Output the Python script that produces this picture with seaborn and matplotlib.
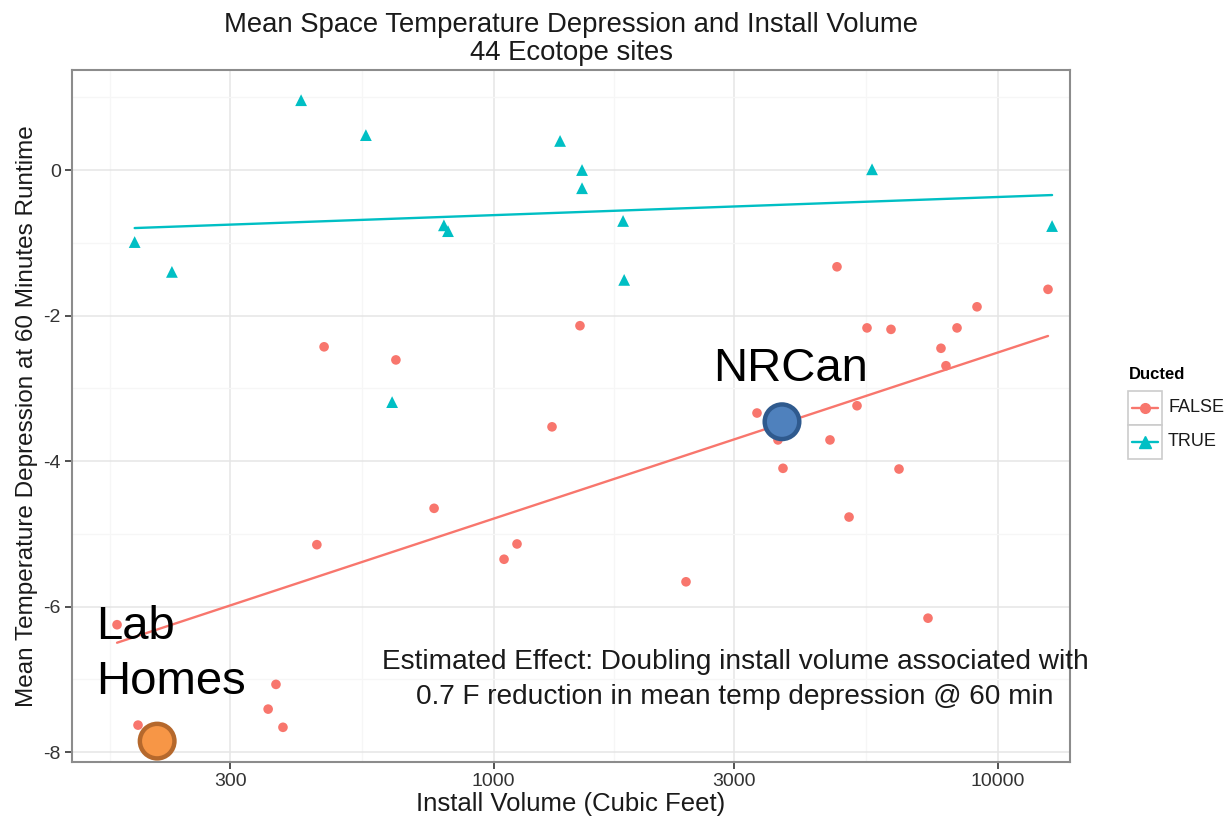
import numpy as np
import pandas as pd
import matplotlib
matplotlib.use("Agg")
import matplotlib.pyplot as plt
import seaborn as sns
from matplotlib.lines import Line2D
from matplotlib.patches import Rectangle
from matplotlib.ticker import FixedLocator, NullFormatter, FixedFormatter

# ---------------- data ----------------
false_volume = [179, 197, 370, 357, 382, 446, 461, 640, 762, 1049,
                1113, 1306, 1484, 2409, 3332, 3667, 3752, 4651, 5074, 5262,
                4802, 5508, 6146, 6375, 7278, 7723, 7901, 8310, 9105, 12594]
false_depression = [-6.25, -7.63, -7.07, -7.41, -7.66, -5.15, -2.43, -2.61, -4.65, -5.35,
                    -5.14, -3.53, -2.14, -5.66, -3.34, -3.71, -4.10, -3.71, -4.77, -3.24,
                    -1.33, -2.17, -2.19, -4.11, -6.16, -2.45, -2.69, -2.17, -1.88, -1.64]
true_volume = [194, 230, 415, 558, 797, 812, 629, 1355, 1498, 1498,
               1807, 1816, 5636, 12830]
true_depression = [-0.99, -1.40, 0.96, 0.48, -0.76, -0.84, -3.19, 0.40, 0.00, -0.25,
                   -0.70, -1.51, 0.01, -0.77]

x_breaks = [300, 1000, 3000, 10000]
x_break_labels = ["300", "1000", "3000", "10000"]
y_breaks = [-8, -6, -4, -2, 0]
y_break_labels = ["-8", "-6", "-4", "-2", "0"]

site_names = ["NRCan", "Lab\nHomes"]
site_volume = [3735, 215]
site_depression = [-3.46, -7.85]

groups = ["FALSE", "TRUE"]
group_colors = {"FALSE": "#F8766D", "TRUE": "#00BFC4"}

# ---------------- build table ----------------
df = pd.DataFrame({
    "volume": false_volume + true_volume,
    "depression": false_depression + true_depression,
    "Ducted": ["FALSE"] * len(false_volume) + ["TRUE"] * len(true_volume),
})

sns.set_theme(style="white")
plt.rcParams["font.family"] = ["Liberation Sans", "DejaVu Sans"]

W, H = 1230, 819
fig = plt.figure(figsize=(W / 100, H / 100), dpi=100)
L, R, T, B = 72, 1070, 70, 762
ax = fig.add_axes([L / W, 1 - B / H, (R - L) / W, (B - T) / H])
ax.set_xscale("log")

# points
sns.scatterplot(data=df[df.Ducted == "FALSE"], x="volume", y="depression",
                color=group_colors["FALSE"], marker="o", s=48, edgecolor="none",
                ax=ax, zorder=3, legend=False)
sns.scatterplot(data=df[df.Ducted == "TRUE"], x="volume", y="depression",
                color=group_colors["TRUE"], marker="^", s=72, edgecolor="none",
                ax=ax, zorder=3, legend=False)

# linear fits on log10 volume
for g in groups:
    sub = df[df.Ducted == g]
    sns.regplot(x=sub["volume"].to_numpy(dtype=float), y=sub["depression"].to_numpy(),
                logx=True, ci=None, scatter=False, truncate=True,
                color=group_colors[g], line_kws={"lw": 1.7, "zorder": 2}, ax=ax)

# highlighted sites
site_df = pd.DataFrame({"volume": site_volume, "depression": site_depression,
                        "site": ["NRCan", "Lab Homes"]})
sns.scatterplot(data=site_df, x="volume", y="depression", hue="site",
                palette={"NRCan": "#4F81BD", "Lab Homes": "#F79646"},
                s=620, linewidth=3.2, ax=ax, zorder=6, legend=False)
coll = ax.collections[-1]
coll.set_edgecolor(["#2F5A8E", "#B5682C"])

ax.text(site_volume[0] * 1.04, site_depression[0] + 0.72, site_names[0],
        fontsize=34, ha="center", va="center", color="black", zorder=7)
ax.text(163, -6.66, site_names[1], fontsize=34, ha="left", va="center",
        color="black", linespacing=1.33, zorder=7)

ax.text(3013, -7.0,
        "Estimated Effect: Doubling install volume associated with\n"
        "0.7 F reduction in mean temp depression @ 60 min",
        fontsize=20.2, ha="center", va="center", multialignment="center",
        color="#1a1a1a", linespacing=1.45, zorder=7)

# axes limits / scales
ax.set_xlim(145.7, 13925)
ax.set_ylim(-8.137, 1.375)

ax.xaxis.set_major_locator(FixedLocator(x_breaks))
ax.xaxis.set_major_formatter(FixedFormatter(x_break_labels))
all_x = [100] + x_breaks + [30000]
x_minor = [np.sqrt(a * b) for a, b in zip(all_x[:-1], all_x[1:])]
ax.xaxis.set_minor_locator(FixedLocator(x_minor))
ax.xaxis.set_minor_formatter(NullFormatter())
ax.yaxis.set_major_locator(FixedLocator(y_breaks))
ax.yaxis.set_major_formatter(FixedFormatter(y_break_labels))
ax.yaxis.set_minor_locator(FixedLocator([-7, -5, -3, -1, 1]))

ax.grid(which="major", color="#e5e5e5", lw=1.1, zorder=0)
ax.grid(which="minor", color="#f6f6f6", lw=0.9, zorder=0)
ax.set_axisbelow(True)
ax.tick_params(which="major", direction="out", length=5, width=1.2,
               color="#333333", labelcolor="#333333", labelsize=14, pad=3,
               bottom=True, left=True)
ax.tick_params(which="minor", length=0)
for s in ax.spines.values():
    s.set_color("#8c8c8c")
    s.set_linewidth(1.5)

ax.set_xlabel("Install Volume (Cubic Feet)", fontsize=18.5, color="#1a1a1a", labelpad=1)
ax.set_ylabel("Mean Temperature Depression at 60 Minutes Runtime", fontsize=17.5,
              color="#1a1a1a", labelpad=4)
ax.set_title("Mean Space Temperature Depression and Install Volume\n44 Ecotope sites",
             fontsize=19.8, color="#1a1a1a", pad=7, linespacing=1.1)

# legend (ggplot style keys)
fig.text(1129 / W, 1 - 375 / H, "Ducted", fontsize=12, fontweight="bold",
         ha="left", va="center", color="black")
key_x0, key_w, key_h = 1128, 34, 34
key_tops = [391, 425]
key_markers = {"FALSE": "o", "TRUE": "^"}
for g, top in zip(groups, key_tops):
    fig.add_artist(Rectangle((key_x0 / W, 1 - (top + key_h) / H), key_w / W, key_h / H,
                             transform=fig.transFigure, facecolor="white",
                             edgecolor="#cccccc", lw=1.2))
    yc = 1 - (top + key_h / 2) / H
    fig.add_artist(Line2D([(key_x0 + 4) / W, (key_x0 + key_w - 4) / W], [yc, yc],
                          transform=fig.transFigure, color=group_colors[g], lw=1.7))
    fig.add_artist(Line2D([(key_x0 + key_w / 2) / W], [yc], transform=fig.transFigure,
                          color=group_colors[g], marker=key_markers[g],
                          markersize=7 if g == "FALSE" else 8, lw=0))
    fig.text((key_x0 + key_w + 6) / W, yc, g, fontsize=13, ha="left", va="center",
             color="#1a1a1a")

fig.savefig("out.png", dpi=100, facecolor="white")
